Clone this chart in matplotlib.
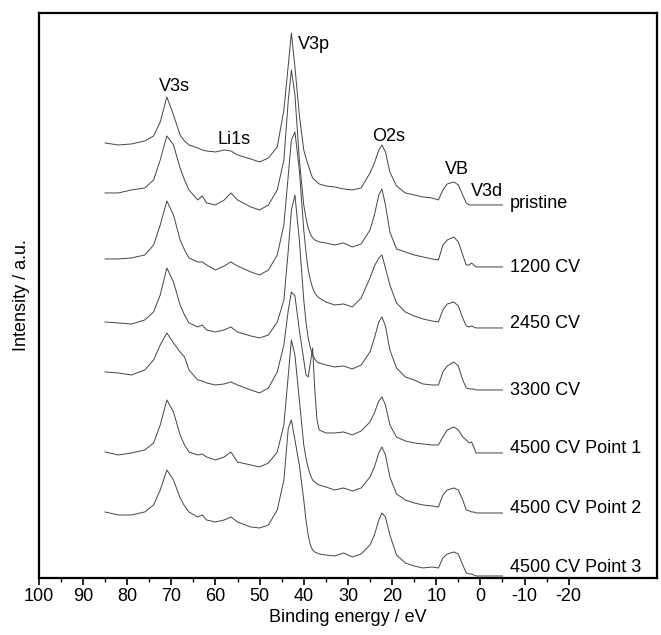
import matplotlib
matplotlib.use("Agg")
import matplotlib.pyplot as plt
import numpy as np

plt.rcParams['font.family'] = ['Liberation Sans', 'DejaVu Sans']
plt.rcParams['font.size'] = 13
plt.rcParams['axes.unicode_minus'] = False

# binding energy grid (eV), shared by all spectra
energy = [85, 82, 79, 76, 74, 72.5, 71, 69.5, 68, 67, 66, 64, 63, 62, 60, 58, 56.5, 55, 52, 50,
          48, 46, 44.5, 43.5, 42.8, 42, 41, 40, 39.5, 39, 38.5, 38, 37.5, 37, 36.5, 35, 33, 31, 29, 27,
          25, 24, 23, 22.3, 21.5, 20.5, 19, 17, 15, 13, 11, 9.5, 8.5, 7.5, 6, 5, 4, 3.2, 2.5, 2,
          1.5, 1, 0, -5]

# intensities (a.u.) above each spectrum's own low-energy baseline
pristine = [62, 60, 61, 64, 69, 83, 108, 90, 70, 64, 60, 57, 55, 54, 53, 55, 54, 50, 46, 43,
            47, 58, 95, 140, 172, 138, 90, 55, 47, 40, 33, 27, 25, 23, 21, 19, 18, 16, 15, 17,
            32, 42, 55, 60, 53, 33, 19, 12, 10, 8, 7, 5, 15, 21, 23, 20, 10, 2, 0, 0,
            0, 0, 0, 0]
cv1200 = [74, 74, 77, 79, 87, 107, 131, 122, 99, 87, 77, 67, 71, 64, 62, 67, 74, 67, 60, 57,
          62, 77, 107, 167, 197, 172, 107, 62, 49, 39, 33, 29, 27, 26, 25, 24, 22, 24, 20, 23,
          37, 52, 72, 78, 62, 35, 18, 15, 12, 10, 8, 7, 22, 27, 30, 25, 12, 2, 2, 4,
          2, 0, 0, 0]
cv2450 = [69, 69, 70, 73, 83, 103, 127, 113, 88, 78, 70, 66, 66, 63, 58, 62, 66, 62, 56, 53,
          58, 73, 103, 153, 188, 196, 158, 98, 76, 58, 48, 40, 35, 32, 30, 26, 23, 24, 21, 30,
          50, 62, 70, 73, 60, 43, 25, 16, 12, 9, 7, 6, 18, 24, 26, 22, 10, 2, 1, 2,
          1, 0, 0, 0]
cv3300 = [68, 67, 66, 70, 78, 95, 122, 108, 85, 75, 67, 63, 65, 60, 58, 60, 63, 58, 54, 52,
          55, 68, 90, 140, 180, 195, 150, 90, 68, 52, 42, 35, 31, 28, 27, 25, 23, 24, 21, 25,
          38, 52, 68, 73, 64, 40, 22, 13, 10, 6, 5, 5, 18, 24, 28, 24, 10, 2, 1, 1,
          1, 0, 0, 0]
cv4500_p1 = [81, 80, 78, 83, 93, 108, 120, 110, 101, 96, 83, 73, 72, 70, 68, 69, 71, 68, 63, 60,
             65, 81, 108, 143, 161, 157, 123, 93, 78, 76, 90, 105, 63, 33, 23, 20, 20, 21, 18, 22,
             31, 40, 52, 56, 48, 28, 16, 12, 10, 9, 8, 8, 16, 23, 26, 23, 16, 13, 10, 11,
             6, 0, 0, 0]
cv4500_p2 = [61, 58, 60, 63, 70, 88, 113, 101, 78, 68, 61, 58, 59, 56, 53, 56, 61, 51, 48, 46,
             50, 61, 88, 138, 173, 158, 113, 68, 55, 45, 38, 33, 31, 29, 28, 26, 23, 25, 22, 25,
             36, 46, 60, 66, 58, 36, 19, 13, 10, 8, 7, 6, 18, 23, 25, 23, 13, 3, 2, 1,
             1, 0, 0, 0]
cv4500_p3 = [64, 61, 61, 64, 71, 86, 106, 96, 78, 70, 64, 59, 61, 56, 54, 56, 59, 54, 49, 48,
             51, 66, 96, 148, 156, 136, 111, 76, 56, 41, 31, 26, 24, 23, 22, 21, 20, 23, 19, 22,
             31, 41, 56, 63, 59, 41, 21, 13, 10, 8, 9, 8, 18, 22, 24, 22, 11, 3, 2, 2,
             1, 0, 0, 0]

spectra = [pristine, cv1200, cv2450, cv3300, cv4500_p1, cv4500_p2, cv4500_p3]
names = ['pristine', '1200 CV', '2450 CV', '3300 CV',
         '4500 CV Point 1', '4500 CV Point 2', '4500 CV Point 3']
offsets = [373, 311, 250, 188, 125, 65, 2]
name_y = [370, 306, 250, 183, 125, 65, 6]

# peak annotations: (label, energy, intensity)
peak_labels = [('V3s', 69.2, 491), ('Li1s', 55.8, 438), ('V3p', 37.7, 533),
               ('O2s', 20.7, 441), ('VB', 5.4, 408), ('V3d', -1.4, 386)]

fig = plt.figure(figsize=(6.61, 6.35), dpi=100)
ax = fig.add_axes([0.0587, 0.0898, 0.9353, 0.8898])

for spec, off, name, ny in zip(spectra, offsets, names, name_y):
    y = np.array(spec) + off
    ax.plot(energy, y, color='#444444', linewidth=0.7)
    ax.text(-6.6, ny, name, ha='left', va='baseline', fontsize=13)

for lab, ex, ey in peak_labels:
    ax.text(ex, ey, lab, ha='center', va='center', fontsize=13)

ax.set_xlim(100, -40)
ax.set_ylim(0, 565)
ax.set_xticks(np.arange(100, -21, -10))
ax.set_xticks(np.arange(95, -20, -10), minor=True)
ax.set_yticks([])
ax.tick_params(axis='x', which='major', direction='out', length=5, width=1.2, pad=2)
ax.tick_params(axis='x', which='minor', direction='out', length=3, width=1.0)
for sp in ax.spines.values():
    sp.set_linewidth(1.6)

ax.set_xlabel('Binding energy / eV', fontsize=13, labelpad=3)
ax.set_ylabel('Intensity / a.u.', fontsize=13, labelpad=6)

plt.savefig('out.png', dpi=100)
